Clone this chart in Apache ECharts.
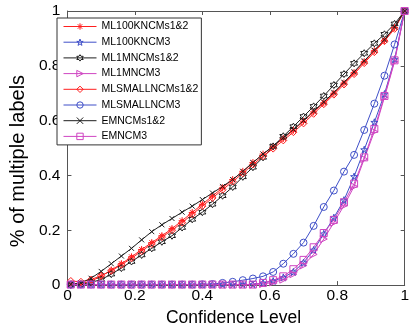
<!DOCTYPE html>
<html>
<head>
<meta charset="utf-8">
<script src="https://cdn.jsdelivr.net/npm/echarts@6/dist/echarts.min.js"></script>
<style>
html,body{margin:0;padding:0;background:#fff;}
#chart{width:412px;height:332px;}
</style>
</head>
<body>
<div id="chart"></div>
<script>
// ---- data ----
const confidence = [0.01,0.04,0.07,0.10,0.13,0.16,0.19,0.22,0.25,0.28,0.31,0.34,0.37,0.40,0.43,0.46,0.49,0.52,0.55,0.58,0.61,0.64,0.67,0.70,0.73,0.76,0.79,0.82,0.85,0.88,0.91,0.94,0.97,1.00];

const seriesNames = ['ML100KNCMs1&2','ML100KNCM3','ML1MNCMs1&2','ML1MNCM3','MLSMALLNCMs1&2','MLSMALLNCM3','EMNCMs1&2','EMNCM3'];

const ml100kMs12 = [0.003,0.005,0.015,0.032,0.055,0.078,0.103,0.13,0.155,0.18,0.206,0.235,0.265,0.295,0.325,0.355,0.385,0.415,0.447,0.478,0.505,0.535,0.565,0.598,0.632,0.665,0.70,0.737,0.775,0.815,0.855,0.893,0.94,1.0];
const ml100kM3 = [0.002,0.002,0.002,0.002,0.002,0.002,0.002,0.002,0.002,0.002,0.002,0.002,0.002,0.002,0.002,0.002,0.002,0.002,0.002,0.008,0.015,0.028,0.048,0.082,0.128,0.187,0.246,0.31,0.396,0.494,0.594,0.697,0.824,1.0];
const ml1mMs12 = [0.0,0.003,0.01,0.02,0.04,0.062,0.086,0.11,0.134,0.158,0.18,0.21,0.24,0.266,0.295,0.326,0.358,0.395,0.43,0.466,0.506,0.543,0.578,0.615,0.652,0.69,0.73,0.77,0.809,0.846,0.882,0.915,0.953,1.0];
const ml1mM3 = [0.002,0.002,0.002,0.002,0.002,0.002,0.002,0.002,0.002,0.002,0.002,0.002,0.002,0.002,0.002,0.002,0.002,0.002,0.002,0.004,0.01,0.02,0.04,0.072,0.112,0.168,0.228,0.29,0.36,0.46,0.56,0.685,0.815,1.0];
const mlSmallMs12 = [0.015,0.012,0.02,0.035,0.052,0.074,0.098,0.124,0.15,0.175,0.2,0.228,0.258,0.288,0.318,0.348,0.378,0.408,0.44,0.47,0.498,0.528,0.558,0.59,0.625,0.66,0.695,0.732,0.77,0.81,0.85,0.89,0.935,1.0];
const mlSmallM3 = [0.002,0.002,0.002,0.002,0.002,0.002,0.002,0.002,0.002,0.002,0.002,0.002,0.002,0.003,0.004,0.008,0.012,0.018,0.024,0.032,0.048,0.078,0.114,0.155,0.216,0.285,0.345,0.414,0.475,0.566,0.662,0.764,0.878,1.0];
const emMs12 = [0.003,0.008,0.025,0.05,0.078,0.106,0.134,0.165,0.195,0.22,0.243,0.266,0.288,0.312,0.336,0.36,0.385,0.415,0.447,0.478,0.508,0.538,0.568,0.6,0.635,0.668,0.703,0.74,0.778,0.818,0.857,0.895,0.942,1.0];
const emM3 = [0.002,0.002,0.002,0.002,0.002,0.002,0.002,0.002,0.002,0.002,0.002,0.002,0.002,0.002,0.002,0.002,0.002,0.002,0.002,0.008,0.018,0.032,0.058,0.092,0.138,0.19,0.238,0.302,0.37,0.466,0.57,0.69,0.82,1.0];

// ---- styles ----
const RED = '#ff1f1f', BLUE = '#3f4fc8', BLACK = '#1e1e1e', MAG = '#cf45c2';
const SYM = {
  asterisk: 'path://M5,0 L5,10 M0,5 L10,5 M1.5,1.5 L8.5,8.5 M8.5,1.5 L1.5,8.5',
  pentagram: 'path://M5,0 L6.2,3.6 L10,3.6 L6.9,5.9 L8.1,9.6 L5,7.3 L1.9,9.6 L3.1,5.9 L0,3.6 L3.8,3.6 Z',
  hexagram: 'path://M5,0 L6.4,2.5 L9.3,2.5 L7.9,5 L9.3,7.5 L6.4,7.5 L5,10 L3.6,7.5 L0.7,7.5 L2.1,5 L0.7,2.5 L3.6,2.5 Z',
  triRight: 'path://M0,0 L10,5 L0,10 Z',
  diamond: 'path://M5,0 L10,5 L5,10 L0,5 Z',
  circle: 'circle',
  cross: 'path://M0,0 L10,10 M10,0 L0,10',
  square: 'path://M0,0 L10,0 L10,10 L0,10 Z'
};
const styleMap = [
  {c: RED, s: SYM.asterisk, size: 7},
  {c: BLUE, s: SYM.pentagram, size: 7},
  {c: BLACK, s: SYM.hexagram, size: 7},
  {c: MAG, s: SYM.triRight, size: 7},
  {c: RED, s: SYM.diamond, size: 7},
  {c: BLUE, s: SYM.circle, size: 7},
  {c: BLACK, s: SYM.cross, size: 5},
  {c: MAG, s: SYM.square, size: 7}
];
const values = [ml100kMs12, ml100kM3, ml1mMs12, ml1mM3, mlSmallMs12, mlSmallM3, emMs12, emM3];

const CLEAR = 'rgba(255,255,255,0)';
const series = seriesNames.map((name, i) => ({
  name: name,
  type: 'line',
  data: confidence.map((x, j) => [x, values[i][j]]),
  symbol: styleMap[i].s,
  symbolSize: styleMap[i].size,
  showAllSymbol: true,
  lineStyle: {color: styleMap[i].c, width: 1},
  itemStyle: {color: CLEAR, borderColor: styleMap[i].c, borderWidth: 1},
  emphasis: {disabled: true},
  animation: false
}));

const legendData = seriesNames.map((name, i) => ({
  name: name,
  itemStyle: {color: CLEAR, borderColor: styleMap[i].c, borderWidth: 1},
  lineStyle: {color: styleMap[i].c, width: 1}
}));

const FONT = '"Liberation Sans", Arial, sans-serif';
const AXIS_COLOR = '#555';

const chart = echarts.init(document.getElementById('chart'), null, {renderer: 'canvas'});
chart.setOption({
  backgroundColor: '#fff',
  animation: false,
  textStyle: {fontFamily: FONT},
  grid: {left: 52, right: 2, top: 11, bottom: 43, containLabel: false},
  legend: {
    orient: 'vertical',
    left: 57,
    top: 18,
    data: legendData,
    itemWidth: 33,
    itemHeight: 8,
    itemGap: 4.7,
    padding: [3, 3, 3, 6],
    borderColor: '#333',
    borderWidth: 1,
    backgroundColor: '#fff',
    textStyle: {fontSize: 10.5, lineHeight: 11, color: '#000', fontFamily: FONT},
    selectedMode: false
  },
  xAxis: [
    {
      type: 'value', min: 0, max: 1, interval: 0.2, position: 'bottom',
      name: 'Confidence Level', nameLocation: 'middle', nameGap: 23,
      nameTextStyle: {fontSize: 17.5, color: '#000', fontFamily: FONT, padding: [0, 5, 0, 0]},
      axisLine: {show: true, onZero: false, lineStyle: {color: AXIS_COLOR, width: 1}},
      axisTick: {show: true, inside: true, length: 4, lineStyle: {color: AXIS_COLOR}},
      axisLabel: {fontSize: 15.5, color: '#000', margin: 3, fontFamily: FONT},
      splitLine: {show: false}
    },
    {
      type: 'value', min: 0, max: 1, interval: 0.2, position: 'top',
      axisLine: {show: true, onZero: false, lineStyle: {color: AXIS_COLOR, width: 1}},
      axisTick: {show: true, inside: true, length: 4, lineStyle: {color: AXIS_COLOR}},
      axisLabel: {show: false},
      splitLine: {show: false}
    }
  ],
  yAxis: [
    {
      type: 'value', min: 0, max: 1, interval: 0.2, position: 'left',
      name: '% of multiple labels', nameLocation: 'middle', nameGap: 30,
      nameTextStyle: {fontSize: 20, color: '#000', fontFamily: FONT, padding: [0, 26, 0, 0]},
      axisLine: {show: true, onZero: false, lineStyle: {color: AXIS_COLOR, width: 1}},
      axisTick: {show: true, inside: true, length: 4, lineStyle: {color: AXIS_COLOR}},
      axisLabel: {fontSize: 15.5, color: '#000', margin: 7, fontFamily: FONT},
      splitLine: {show: false}
    },
    {
      type: 'value', min: 0, max: 1, interval: 0.2, position: 'right',
      axisLine: {show: true, onZero: false, lineStyle: {color: AXIS_COLOR, width: 1}},
      axisTick: {show: true, inside: true, length: 4, lineStyle: {color: AXIS_COLOR}},
      axisLabel: {show: false},
      splitLine: {show: false}
    }
  ],
  series: series
});
</script>
</body>
</html>
